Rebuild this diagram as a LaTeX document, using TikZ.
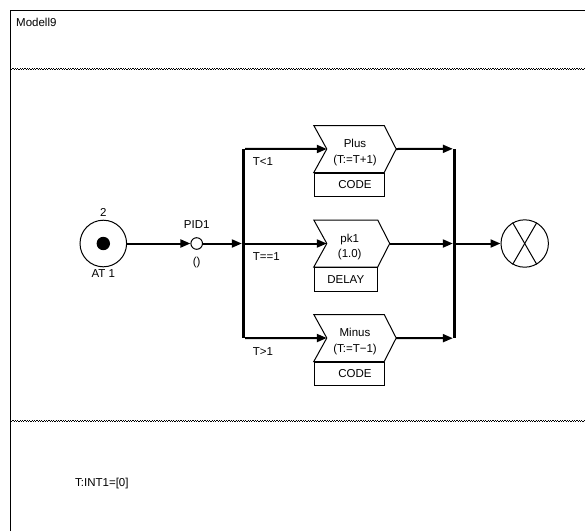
\documentclass[tikz,border=0pt]{standalone}
\usepackage{fontspec}
\setmainfont{Liberation Sans}
\usetikzlibrary{positioning,arrows.meta}

\tikzset{
  place/.style={circle,draw,line width=1pt,minimum size=46.6pt,inner sep=0pt},
  token/.style={circle,fill=black,minimum size=13.4pt,inner sep=0pt},
  arc/.style={line width=2pt,-{Triangle[length=10pt,width=8pt]}},
  bar/.style={fill=black,minimum width=3pt,minimum height=189pt,inner sep=0pt},
  chev/.style={minimum height=46.6pt,inner sep=0pt},
  codebox/.style={draw,line width=1pt,minimum height=23.5pt,inner sep=0pt},
  sep/.style={line width=1.2pt,dash pattern=on 1.2pt off 1.2pt}
}

\begin{document}
\begin{tikzpicture}[x=1pt,y=-1pt,font=\fontsize{11.5}{15.5}\selectfont,inner sep=0pt]
\useasboundingbox (0,0) rectangle (585,531);

% frame and the two separators
\draw[line width=1pt] (10,531) -- (10,10) -- (585,10);
\foreach \y in {68.5,420.5} {
    \draw[sep] (10,\y) -- (585,\y);
    \draw[sep,dash phase=1.2pt] (10,\y+1.2) -- (585,\y+1.2);
}

\node[anchor=base west] (title) at (16,26) {Modell9};
\node[anchor=base west] (decl) at (75,486.5) {T:INT1=[0]};

% start place and the PID node
\node[place] (at1) at (103.3,243.5) {};
\node[token] (tok) at (at1.center) {};
\node[above=3pt of at1] (cap) {2};
\node[below=2pt of at1] (atname) {AT 1};

\node[circle,draw,line width=1pt,minimum size=11.6pt] (pid) at (196.7,243.5) {};
\node[above=8.5pt of pid] (pidname) {PID1};
\node[below=7pt of pid] (pidargs) {()};

% split and join bars
\node[bar] (split) at (243.5,243.5) {};
\node[bar] (join) at (454.5,243.5) {};

% the three actions
\node[chev,minimum width=70pt] (plus) at (349,149) {};
\node[chev,minimum width=63.5pt] (pk) at (345.75,243.5) {};
\node[chev,minimum width=70pt] (minus) at (349,338) {};

\foreach \n in {plus,pk,minus} {
    \draw[line width=1pt] (\n.north west) -- (\n.north east) -- ([xshift=12pt]\n.east)
        -- (\n.south east) -- (\n.south west) -- ([xshift=13pt]\n.west) -- cycle;
}

\node[align=center] (plustxt) at ([xshift=6pt,yshift=-3.5pt]plus.center) {Plus\\(T:=T+1)};
\node[align=center] (pktxt) at ([xshift=4pt,yshift=-3.5pt]pk.center) {pk1\\(1.0)};
\node[align=center] (minustxt) at ([xshift=6pt,yshift=-3.5pt]minus.center) {Minus\\(T:=T−1)};

\node[codebox,minimum width=70pt,below=0pt of plus] (pluscode) {\hspace*{12pt}CODE};
\node[codebox,minimum width=63.5pt,below=0pt of pk] (pkdelay) {DELAY};
\node[codebox,minimum width=70pt,below=0pt of minus] (minuscode) {\hspace*{12pt}CODE};

% end place
\node[place,minimum size=47.4pt] (sink) at (524.7,243.5) {};
\draw[line width=1pt] (sink.60) -- (sink.240);
\draw[line width=1pt] (sink.120) -- (sink.300);

% arcs
\draw[arc] (at1) -- (pid);
\draw[arc] (pid) -- (split);
\draw[arc] (split.north east) -- ([xshift=13pt]plus.west);
\draw[arc] (split.east) -- ([xshift=13pt]pk.west);
\draw[arc] (split.south east) -- ([xshift=13pt]minus.west);
\draw[arc] ([xshift=12pt]plus.east) -- (join.north west);
\draw[arc] ([xshift=12pt]pk.east) -- (join.west);
\draw[arc] ([xshift=12pt]minus.east) -- (join.south west);
\draw[arc] (join) -- (sink);

% guards
\node[anchor=north west] (glt) at ([shift={(7.5,9)}]split.north east) {T<1};
\node[anchor=north west] (geq) at ([shift={(7.5,9)}]split.east) {T==1};
\node[anchor=north west] (ggt) at ([shift={(7.5,9)}]split.south east) {T>1};
\end{tikzpicture}
\end{document}
